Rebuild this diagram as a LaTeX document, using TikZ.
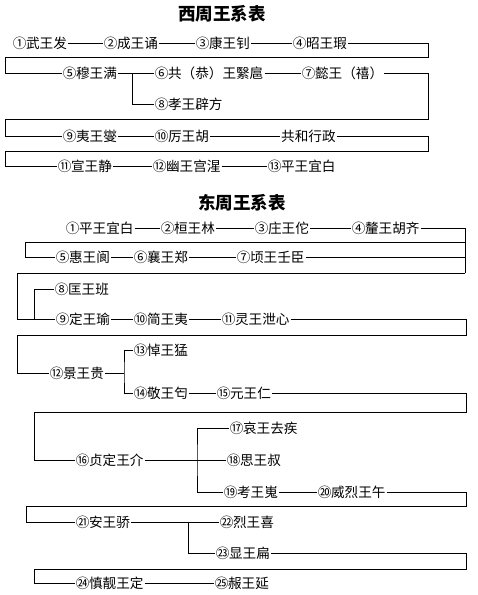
\documentclass[tikz,border=0pt]{standalone}
\usepackage{fontspec}
\usepackage{tikz}
\newfontfamily\cjk{Noto Sans CJK SC}
\newcommand\cn[1]{\makebox[0.95em]{#1}}
\tikzset{
  king/.style={anchor=west, inner xsep=1pt, inner ysep=1pt, font=\cjk\fontsize{13.6}{14}\selectfont},
  ttl/.style={inner sep=0pt, font=\cjk\bfseries\fontsize{17.5}{19}\selectfont},
  tie/.style={line width=0.8pt}
}

\begin{document}
\begin{tikzpicture}[x=1pt, y=-1pt]
\useasboundingbox (0,0) rectangle (478,595);
% western zhou
\node[ttl] (tw) at (222,14) {西周王系表};
\node[king] (w1) at (12,43) {\cn{①}武王发};
\node[king] (w2) at (103,43) {\cn{②}成王诵};
\node[king] (w3) at (195,43) {\cn{③}康王钊};
\node[king] (w4) at (292,43) {\cn{④}昭王瑕};
\node[king] (w5) at (62,73) {\cn{⑤}穆王满};
\node[king] (w6) at (154,73) {\cn{⑥}共（恭）王繄扈};
\node[king] (w7) at (301,73) {\cn{⑦}懿王（禧）};
\node[king] (w8) at (154,104) {\cn{⑧}孝王辟方};
\node[king] (w9) at (62,136) {\cn{⑨}夷王燮};
\node[king] (w10) at (154,136) {\cn{⑩}厉王胡};
\node[king] (gh) at (280,136) {共和行政};
\node[king] (w11) at (57,166) {\cn{⑪}宣王静};
\node[king] (w12) at (152,166) {\cn{⑫}幽王宫湦};
\node[king] (w13) at (267,166) {\cn{⑬}平王宜白};
\coordinate (rw1) at (428,57);  \coordinate (lw1) at (5,57);
\coordinate (rw2) at (428,119); \coordinate (lw2) at (5,119);
\coordinate (rw3) at (428,151); \coordinate (lw3) at (5,151);
\coordinate (bw) at (132,73);
\draw[tie] (w1) -- (w2) -- (w3) -- (w4);
\draw[tie] (w4.east) -| (rw1) -- (lw1) |- (w5.west);
\draw[tie] (w5) -- (w6) -- (w7);
\draw[tie] (bw) |- (w8.west);
\draw[tie] (w7.east) -| (rw2) -- (lw2) |- (w9.west);
\draw[tie] (w9) -- (w10) -- (gh);
\draw[tie] (gh.east) -| (rw3) -- (lw3) |- (w11.west);
\draw[tie] (w11) -- (w12) -- (w13);
% eastern zhou
\node[ttl] (te) at (242,203) {东周王系表};
\node[king] (e1) at (65,228) {\cn{①}平王宜白};
\node[king] (e2) at (160,228) {\cn{②}桓王林};
\node[king] (e3) at (254,228) {\cn{③}庄王佗};
\node[king] (e4) at (351,228) {\cn{④}釐王胡齐};
\node[king] (e5) at (55,257) {\cn{⑤}惠王阆};
\node[king] (e6) at (133,257) {\cn{⑥}襄王郑};
\node[king] (e7) at (236,257) {\cn{⑦}顷王壬臣};
\node[king] (e8) at (54,289) {\cn{⑧}匡王班};
\node[king] (e9) at (55,319) {\cn{⑨}定王瑜};
\node[king] (e10) at (133,319) {\cn{⑩}简王夷};
\node[king] (e11) at (221,319) {\cn{⑪}灵王泄心};
\node[king] (e12) at (49,373) {\cn{⑫}景王贵};
\node[king] (e13) at (133,350) {\cn{⑬}悼王猛};
\node[king] (e14) at (133,393) {\cn{⑭}敬王匄};
\node[king] (e15) at (216,393) {\cn{⑮}元王仁};
\node[king] (e16) at (75,460) {\cn{⑯}贞定王介};
\node[king] (e17) at (229,428) {\cn{⑰}哀王去疾};
\node[king] (e18) at (226,460) {\cn{⑱}思王叔};
\node[king] (e19) at (223,492) {\cn{⑲}考王嵬};
\node[king] (e20) at (317,492) {\cn{⑳}威烈王午};
\node[king] (e21) at (75,522) {\cn{㉑}安王骄};
\node[king] (e22) at (219,522) {\cn{㉒}烈王喜};
\node[king] (e23) at (215,553) {\cn{㉓}显王扁};
\node[king] (e24) at (75,583) {\cn{㉔}慎靓王定};
\node[king] (e25) at (214,583) {\cn{㉕}赧王延};
\coordinate (re1) at (465,242); \coordinate (le1) at (25,242);
\coordinate (re2) at (465,273); \coordinate (le2) at (17,273);
\coordinate (re3) at (466,335); \coordinate (le3) at (17,335);
\coordinate (re4) at (466,412); \coordinate (le4) at (34,412);
\coordinate (re5) at (466,506); \coordinate (le5) at (26,506);
\coordinate (re6) at (466,569); \coordinate (le6) at (34,569);
\coordinate (be) at (34,319);
\coordinate (bj) at (124,373);
\coordinate (bk) at (197,460);
\coordinate (bl) at (188,522);
\draw[tie] (e1) -- (e2) -- (e3) -- (e4);
\draw[tie] (e4.east) -| (re2);
\draw[tie] (re1) -- (le1) |- (e5.west);
\draw[tie] (e5) -- (e6) -- (e7);
\draw[tie] (e7.east) -- (e7.east -| re2);
\draw[tie] (re2) -- (le2) |- (e9.west);
\draw[tie] (be) |- (e8.west);
\draw[tie] (e9) -- (e10) -- (e11);
\draw[tie] (e11.east) -| (re3) -- (le3) |- (e12.west);
\draw[tie] (e12.east) -- (bj);
\draw[tie] (e13.west) -| (bj) |- (e14.west);
\draw[tie] (e14) -- (e15);
\draw[tie] (e15.east) -| (re4) -- (le4) |- (e16.west);
\draw[tie] (e16) -- (e18);
\draw[tie] (e17.west) -| (bk) |- (e19.west);
\draw[tie] (e19) -- (e20);
\draw[tie] (e20.east) -| (re5) -- (le5) |- (e21.west);
\draw[tie] (e21) -- (e22);
\draw[tie] (bl) |- (e23.west);
\draw[tie] (e23.east) -| (re6) -- (le6) |- (e24.west);
\draw[tie] (e24) -- (e25);
\end{tikzpicture}
\end{document}
